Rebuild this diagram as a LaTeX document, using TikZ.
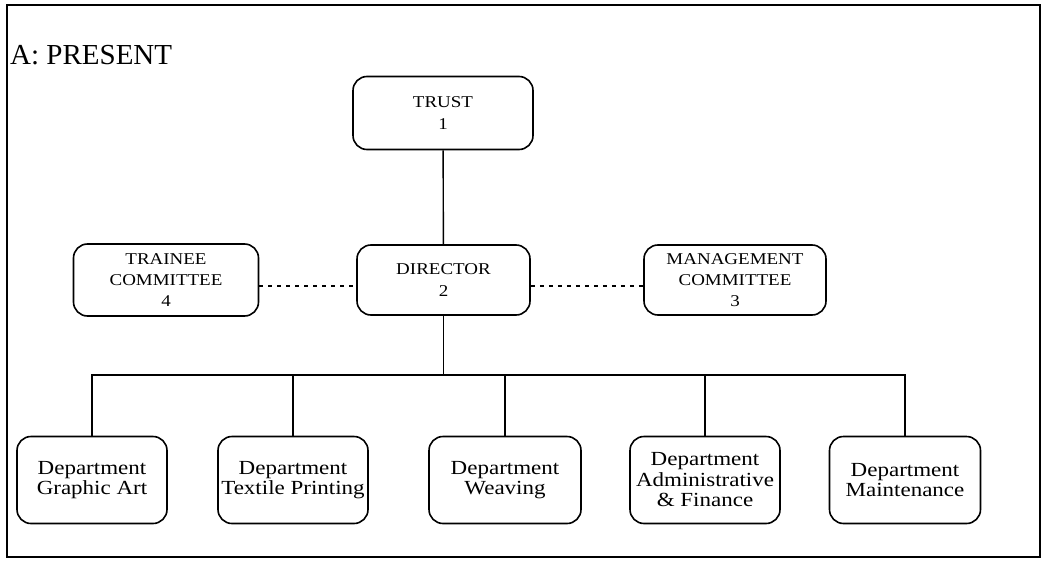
\documentclass[tikz,border=0pt]{standalone}
\usepackage{fontspec}
\setmainfont{Liberation Serif}[FakeStretch=1.15]
\newfontfamily\titlefont{Liberation Serif}
\begin{document}
\begin{tikzpicture}[x=1pt,y=-1pt,
  box/.style={draw, line width=1.6pt, rounded corners=14pt, align=center, inner sep=0pt},
  topbox/.style={box, font=\fontsize{16.5}{22}\selectfont},
  deptbox/.style={box, minimum width=150pt, minimum height=87pt, font=\fontsize{20}{20.5}\selectfont},
  link/.style={line width=1.4pt},
  dots/.style={line width=1.6pt, dash pattern=on 4pt off 5pt}]
\useasboundingbox (0,0) rectangle (1047,562);
\draw[line width=1.2pt] (7,5) rectangle (1040,557);
\node[anchor=base west, font=\titlefont\fontsize{29}{30}\selectfont, inner sep=0pt] (title) at (10,64) {A: PRESENT};
\node[topbox, minimum width=180pt, minimum height=73pt] (trust) at (443,113) {TRUST\\1};
\node[topbox, minimum width=173pt, minimum height=70pt] (director) at (443.5,280) {DIRECTOR\\2};
\node[topbox, minimum width=185pt, minimum height=72pt, font=\fontsize{16.5}{21}\selectfont] (trainee) at (166,280) {TRAINEE\\COMMITTEE\\4};
\node[topbox, minimum width=182pt, minimum height=70pt, font=\fontsize{16.5}{21}\selectfont] (mgmt) at (735,280) {MANAGEMENT\\COMMITTEE\\3};
\node[deptbox] (d1) at (92,480) {Department\\Graphic Art};
\node[deptbox] (d2) at (293,480) {Department\\Textile Printing};
\node[deptbox, minimum width=152pt] (d3) at (505,480) {Department\\Weaving};
\node[deptbox] (d4) at (705,480) {Department\\Administrative\\\& Finance};
\node[deptbox, minimum width=151pt] (d5) at (905,480) {Department\\Maintenance};
\coordinate (bus) at (443.5,375);
\draw[link] (trust) -- (director);
\draw[link] (director) -- (bus);
\draw[link] (d1.north) |- (bus) -| (d5.north);
\draw[link] (d2.north) -- (d2.north |- bus);
\draw[link] (d3.north) -- (d3.north |- bus);
\draw[link] (d4.north) -- (d4.north |- bus);
\draw[dots] ([yshift=-6pt]trainee.east) -- ([yshift=-6pt]director.west);
\draw[dots] ([yshift=-6pt]director.east) -- ([yshift=-6pt]mgmt.west);
\end{tikzpicture}
\end{document}
